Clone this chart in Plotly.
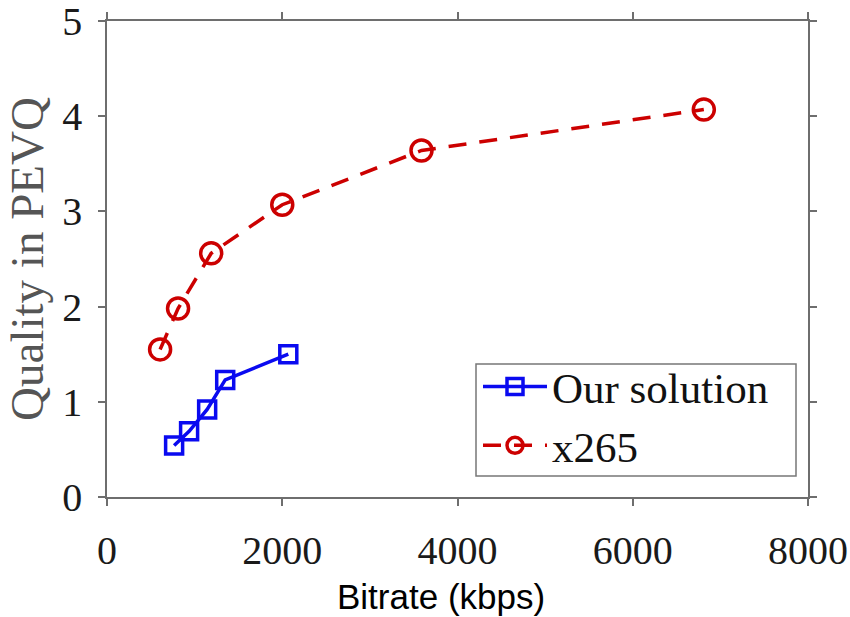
import plotly.graph_objects as go

# Data
ours_bitrate = [766, 937, 1143, 1349, 2069]
ours_quality = [0.54, 0.69, 0.92, 1.23, 1.50]

x265_bitrate = [606, 811, 1189, 2000, 3589, 6811]
x265_quality = [1.55, 1.98, 2.56, 3.07, 3.64, 4.07]

x_ticks = [0, 2000, 4000, 6000, 8000]
y_ticks = [0, 1, 2, 3, 4, 5]

serif = "Liberation Serif, Times New Roman, serif"
sans = "Liberation Sans, Arial, sans-serif"
axis_gray = "#6e6e6e"

L, R, T, B = 107, 808, 21, 497  # plot area in pixels
W, H = R - L, B - T


def px_x(p):
    return (p - L) / W


def px_y(p):
    return (B - p) / H


fig = go.Figure()
fig.add_trace(go.Scatter(
    x=ours_bitrate, y=ours_quality, name="Our solution",
    mode="lines+markers",
    line=dict(color="#0a0af0", width=3.5),
    marker=dict(symbol="square-open", size=17, color="#0a0af0",
                line=dict(width=3.5, color="#0a0af0")),
))
fig.add_trace(go.Scatter(
    x=x265_bitrate, y=x265_quality, name="x265",
    mode="lines+markers",
    line=dict(color="#cc0000", width=3.5, dash="18px,13px"),
    marker=dict(symbol="circle-open", size=21, color="#cc0000",
                line=dict(width=3.5, color="#cc0000")),
))

fig.update_layout(
    width=850, height=617,
    margin=dict(l=L, r=850 - R, t=T, b=617 - B),
    paper_bgcolor="white", plot_bgcolor="white",
    font=dict(family=serif, size=40, color="#1a1a1a"),
    showlegend=True,
    legend=dict(
        x=px_x(478), y=px_y(352), xanchor="left", yanchor="top",
        bgcolor="rgba(0,0,0,0)", borderwidth=0,
        font=dict(family=serif, size=43, color="#111111"),
        itemwidth=64, tracegroupgap=0,
    ),
    shapes=[dict(
        type="rect", xref="paper", yref="paper",
        x0=px_x(476), x1=px_x(796), y0=px_y(476), y1=px_y(364),
        line=dict(color="#777777", width=1.5), fillcolor="white",
        layer="below",
    )],
    xaxis=dict(
        range=[0, 8000], tickvals=x_ticks,
        ticktext=[str(v) for v in x_ticks],
        showgrid=False, zeroline=False, automargin=False,
        ticklabeloverflow="allow",
        showline=True, linecolor=axis_gray, linewidth=1.5,
        mirror="ticks", ticks="outside", ticklen=7, tickwidth=1.5,
        tickcolor=axis_gray,
        tickfont=dict(family=serif, size=40, color="#1a1a1a"),
        ticklabelstandoff=10,
    ),
    yaxis=dict(
        range=[0, 5], tickvals=y_ticks,
        ticktext=[str(v) for v in y_ticks],
        showgrid=False, zeroline=False, automargin=False,
        ticklabeloverflow="allow",
        showline=True, linecolor=axis_gray, linewidth=1.5,
        mirror="ticks", ticks="outside", ticklen=7, tickwidth=1.5,
        tickcolor=axis_gray,
        tickfont=dict(family=serif, size=40, color="#1a1a1a"),
        ticklabelstandoff=8,
        title=dict(text="Quality in PEVQ",
                   font=dict(family=serif, size=47, color="#555555"),
                   standoff=4),
    ),
    annotations=[dict(
        text="Bitrate (kbps)", xref="paper", yref="paper",
        x=px_x(441), y=px_y(596),
        xanchor="center", yanchor="middle", showarrow=False,
        font=dict(family=sans, size=35, color="#000000"),
    )],
)

fig.write_html("out.html")
